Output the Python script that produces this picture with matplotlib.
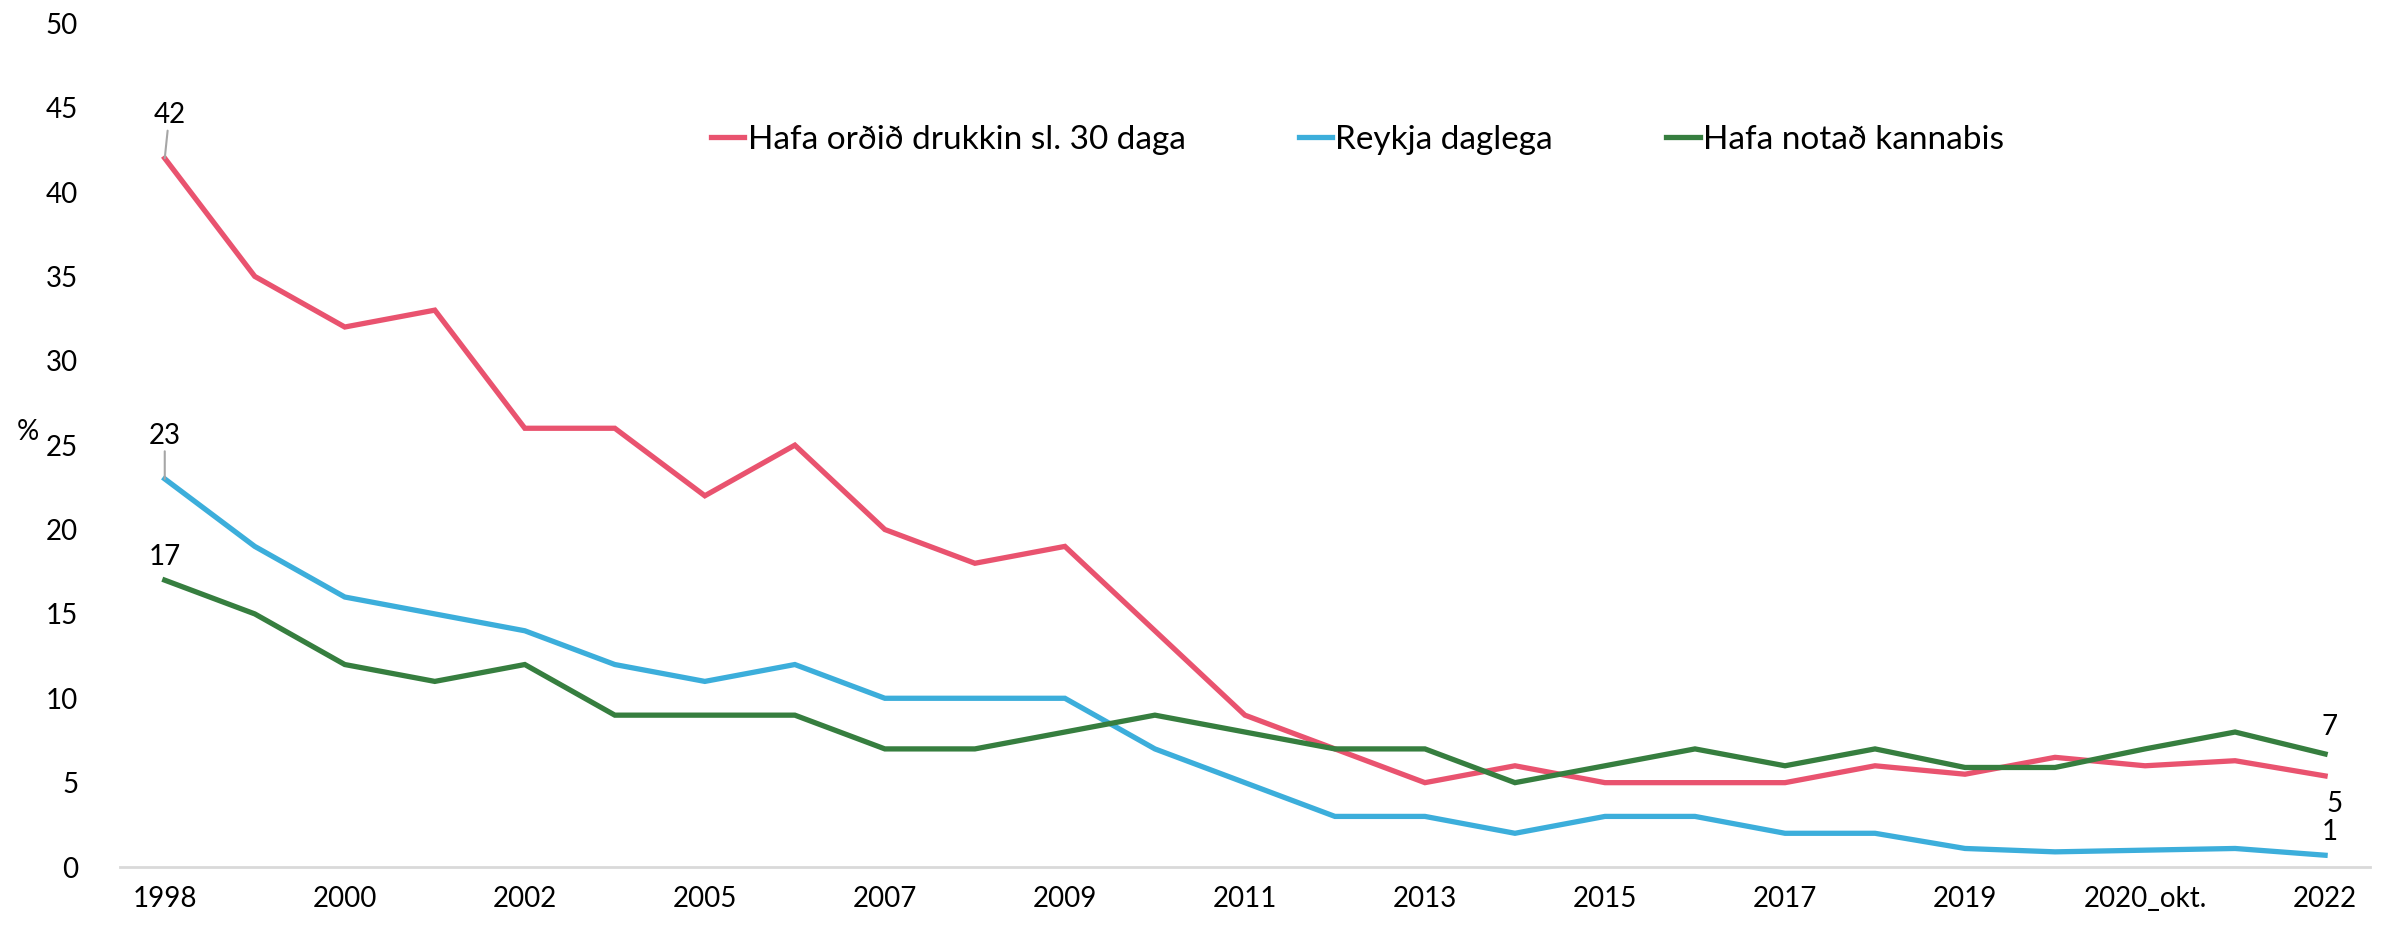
import matplotlib
matplotlib.use('Agg')
import matplotlib.pyplot as plt

plt.rcParams['font.family'] = ['Lato', 'DejaVu Sans']

categories = ['1998', '1999', '2000', '2001', '2002', '2004', '2005', '2006',
              '2007', '2008', '2009', '2010', '2011', '2012', '2013', '2014',
              '2015', '2016', '2017', '2018', '2019', '2020_feb.', '2020_okt.',
              '2021', '2022']

drukkin = [42, 35, 32, 33, 26, 26, 22, 25, 20, 18, 19, 14, 9, 7, 5, 6,
           5, 5, 5, 6, 5.5, 6.5, 6, 6.3, 5.4]
reykja = [23, 19, 16, 15, 14, 12, 11, 12, 10, 10, 10, 7, 5, 3, 3, 2,
          3, 3, 2, 2, 1.1, 0.9, 1.0, 1.1, 0.7]
kannabis = [17, 15, 12, 11, 12, 9, 9, 9, 7, 7, 8, 9, 8, 7, 7, 5,
            6, 7, 6, 7, 5.9, 5.9, 7, 8, 6.7]

labels = ['Hafa orðið drukkin sl. 30 daga', 'Reykja daglega', 'Hafa notað kannabis']
colors = ['#E9536F', '#3CAEDB', '#367E3F']

fs = 20

fig = plt.figure(figsize=(23.95, 9.3), dpi=100)
ax = fig.add_axes([0.05, 0.0677, 0.9396, 0.9073])

x = list(range(len(categories)))
for vals, lab, col in zip([drukkin, reykja, kannabis], labels, colors):
    ax.plot(x, vals, color=col, lw=3.8, label=lab, solid_joinstyle='miter')

ax.set_xlim(-0.5, len(categories) - 0.5)
ax.set_ylim(0, 50)
ax.set_yticks(range(0, 51, 5))
ax.set_xticks(x[::2])
ax.set_xticklabels(categories[::2])
ax.tick_params(axis='both', length=0, labelsize=fs, colors='black')
ax.tick_params(axis='y', pad=30)
ax.tick_params(axis='x', pad=14)
for s in ['top', 'right', 'left']:
    ax.spines[s].set_visible(False)
ax.spines['bottom'].set_color('#d9d9d9')
ax.spines['bottom'].set_linewidth(2)

ax.set_ylabel('%', rotation=0, fontsize=fs)
ax.yaxis.set_label_coords(-0.041, 0.5)

# data labels
ax.annotate(str(round(drukkin[0])), (0, drukkin[0]), xytext=(0.05, drukkin[0] + 1.8),
            fontsize=fs, ha='center', va='bottom',
            arrowprops=dict(arrowstyle='-', color='#a6a6a6', lw=1.5, shrinkA=0, shrinkB=0))
ax.annotate(str(round(reykja[0])), (0, reykja[0]), xytext=(0.0, reykja[0] + 1.8),
            fontsize=fs, ha='center', va='bottom',
            arrowprops=dict(arrowstyle='-', color='#a6a6a6', lw=1.5, shrinkA=0, shrinkB=0))
ax.text(0, kannabis[0] + 0.6, str(round(kannabis[0])), fontsize=fs, ha='center', va='bottom')

n = len(categories) - 1
ax.text(n + 0.05, kannabis[-1] + 0.8, str(round(kannabis[-1])), fontsize=fs, ha='center', va='bottom')
ax.text(n + 0.1, drukkin[-1] - 0.9, str(round(drukkin[-1])), fontsize=fs, ha='center', va='top')
ax.text(n + 0.05, reykja[-1] + 0.6, str(round(reykja[-1])), fontsize=fs, ha='center', va='bottom')

ax.legend(loc='center', bbox_to_anchor=(0.55, 0.862), ncol=3, frameon=False,
          fontsize=24, handlelength=1.0, handletextpad=0.1, columnspacing=3.4)

fig.savefig('out.png', dpi=100)
